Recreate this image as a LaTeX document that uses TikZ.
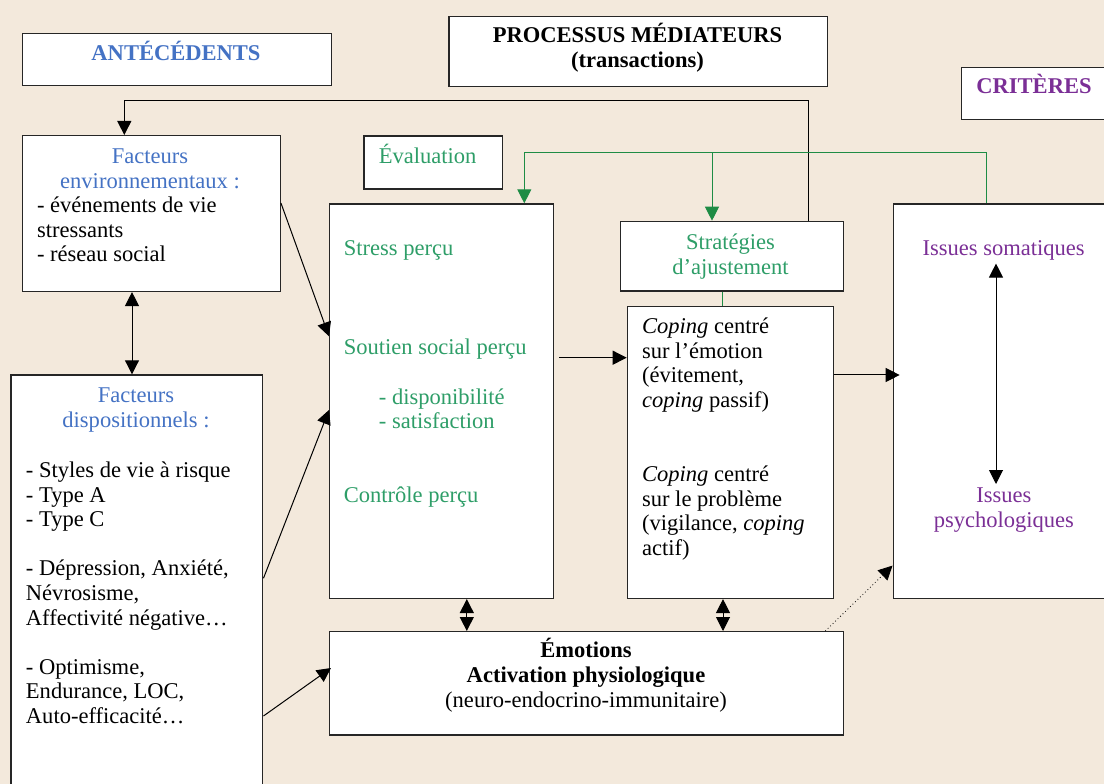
\documentclass[tikz,border=0pt]{standalone}
\usepackage{fontspec}
\setmainfont{Liberation Serif}
\usetikzlibrary{arrows.meta,calc}
\definecolor{bg}{HTML}{F3E9DC}
\definecolor{ablue}{HTML}{4472C4}
\definecolor{tgreen}{HTML}{2E9E68}
\definecolor{lgreen}{HTML}{1E8C45}
\definecolor{cpurple}{HTML}{7B2F96}
\newcommand{\fl}{\rule{0pt}{15.5pt}}
\tikzset{
  box/.style={draw=black!85, line width=1pt, fill=white, inner sep=0pt, anchor=north west},
  txt/.style={inner sep=0pt, font=\fontsize{16.9pt}{18.45pt}\selectfont},
  conn/.style={line width=0.75pt, -{Triangle[length=10.5pt,width=10.5pt]}},
  dconn/.style={line width=0.75pt, {Triangle[length=10.5pt,width=10.5pt]}-{Triangle[length=10.5pt,width=10.5pt]}},
}
\begin{document}
\begin{tikzpicture}[x=0.75pt,y=-0.75pt]
\clip (0,0) rectangle (1104,784);
\fill[bg] (0,0) rectangle (1104,784);
% boxes
\node[box, minimum width=232.1pt, minimum height=39.2pt] (ant) at (21.5,32.7) {};
\node[box, minimum width=283.9pt, minimum height=52.5pt] (proc) at (448.2,15.7) {};
\node[box, minimum width=111.75pt, minimum height=39.2pt] (crit) at (961,66.7) {};
\node[box, minimum width=193.35pt, minimum height=116.8pt] (env) at (21.8,135) {};
\node[box, minimum width=103.95pt, minimum height=39.75pt] (eval) at (363.2,135.3) {};
\node[box, minimum width=167.7pt, minimum height=295.8pt] (big) at (329,203.3) {};
\node[box, minimum width=167.6pt, minimum height=52.2pt] (strat) at (619.5,220.7) {};
\node[box, minimum width=154.7pt, minimum height=218.8pt] (coping) at (626.7,306) {};
\node[box, minimum width=162.75pt, minimum height=295.8pt] (issues) at (893,203.3) {};
\node[box, minimum width=188.8pt, minimum height=319.3pt] (disp) at (10.4,374.3) {};
\node[box, minimum width=385.5pt, minimum height=77.5pt] (emo) at (329,631) {};
% texts
\node[txt, anchor=base, text=ablue, font=\fontsize{16.9pt}{18.45pt}\selectfont\bfseries] (tAnt) at (176,60.7) {ANTÉCÉDENTS};
\node[txt, anchor=north, align=center, font=\fontsize{16.9pt}{18.45pt}\selectfont\bfseries] (tProc) at (637.5,21.6) {\fl PROCESSUS MÉDIATEURS\\(transactions)};
\node[txt, anchor=base, text=cpurple, font=\fontsize{16.9pt}{18.45pt}\selectfont\bfseries] (tCrit) at (1034,94) {CRITÈRES};
\node[txt, anchor=north, align=center, text=ablue] (tEnvH) at (150,142.8) {\fl Facteurs\\environnementaux :};
\node[txt, anchor=north west, align=left] (tEnvL) at (36.8,191.8) {\fl - événements de vie\\stressants\\- réseau social};
\node[txt, anchor=base west, text=tgreen] (tEval) at (378.6,163.3) {Évaluation};
\node[txt, anchor=base west, text=tgreen] (tStress) at (343.6,255.7) {Stress perçu};
\node[txt, anchor=base west, text=tgreen] (tSoutien) at (343.6,355) {Soutien social perçu};
\node[txt, anchor=north west, align=left, text=tgreen] (tDispo) at (378.6,383.3) {\fl - disponibilité\\- satisfaction};
\node[txt, anchor=base west, text=tgreen] (tControle) at (343.6,502.7) {Contrôle perçu};
\node[txt, anchor=north, align=center, text=tgreen] (tStrat) at (730.5,228.8) {\fl Stratégies\\d’ajustement};
\node[txt, anchor=north west, align=left] (tCop1) at (641.8,312.8) {\fl\textit{Coping} centré\\sur l’émotion\\(évitement,\\\textit{coping} passif)};
\node[txt, anchor=north west, align=left] (tCop2) at (641.8,460.6) {\fl\textit{Coping} centré\\sur le problème\\(vigilance, \textit{coping}\\actif)};
\node[txt, anchor=base, text=cpurple] (tSoma) at (1003.7,256) {Issues somatiques};
\node[txt, anchor=north, align=center, text=cpurple] (tPsy) at (1003.9,481.6) {\fl Issues\\psychologiques};
\node[txt, anchor=north, align=center, text=ablue] (tDispH) at (136,381.6) {\fl Facteurs\\dispositionnels :};
\node[txt, anchor=north west, align=left] (tDispL) at (25.7,456.6) {\fl - Styles de vie à risque\\- Type A\\- Type C\\[18.45pt]- Dépression, Anxiété,\\Névrosisme,\\Affectivité négative…\\[18.45pt]- Optimisme,\\Endurance, LOC,\\Auto-efficacité…};
\node[txt, anchor=north, align=center] (tEmo) at (586,637) {\fl\textbf{Émotions}\\\textbf{Activation physiologique}\\(neuro-endocrino-immunitaire)};
% connectors
\draw[conn] ($(strat.north east)+(-35.4,0)$) -- ++(0,-120) -| ($(env.north west)+(102.5,0)$);
\draw[conn, draw=lgreen] ($(issues.north west)+(93,0)$) -- ++(0,-50.6) -| ($(big.north west)+(195.3,0)$);
\coordinate (gj) at (712,152.7);
\draw[conn, draw=lgreen] (gj) -- (gj |- strat.north);
\draw[lgreen, line width=0.75pt] ($(strat.south west)+(103,0)$) coordinate (gs) -- (gs |- coping.north);
\draw[dconn] ($(env.south west)+(110.2,0)$) -- ($(disp.north west)+(121.6,0)$);
\draw[conn] ($(env.north east)+(0,68)$) -- ($(big.north west)+(0,133)$);
\draw[conn] ($(disp.north east)+(0,204)$) -- ($(big.north west)+(0,206.7)$);
\draw[conn] ($(disp.north east)+(0,341.7)$) -- ($(emo.north west)+(2,37)$);
\draw[conn] ($(big.north east)+(5.4,154.4)$) coordinate (bc) -- (bc -| coping.west);
\draw[conn, shorten >=-5pt] ($(coping.north east)+(0,69)$) coordinate (ci) -- (ci -| issues.west);
\draw[dconn] ($(big.south west)+(137.8,0)$) coordinate (be) -- (be |- emo.north);
\draw[dconn] ($(coping.south west)+(96.3,0)$) coordinate (ce) -- (ce |- emo.north);
\draw[line width=0.6pt, dotted, -{Triangle[length=10.5pt,width=10.5pt]}] ($(emo.north west)+(496.3,0)$) -- ($(issues.south west)+(-0.5,-33.4)$);
\draw[dconn] ($(tSoma.south)+(-7.7,2.5)$) -- ($(tPsy.north)+(-7.9,2.4)$);
\end{tikzpicture}
\end{document}
